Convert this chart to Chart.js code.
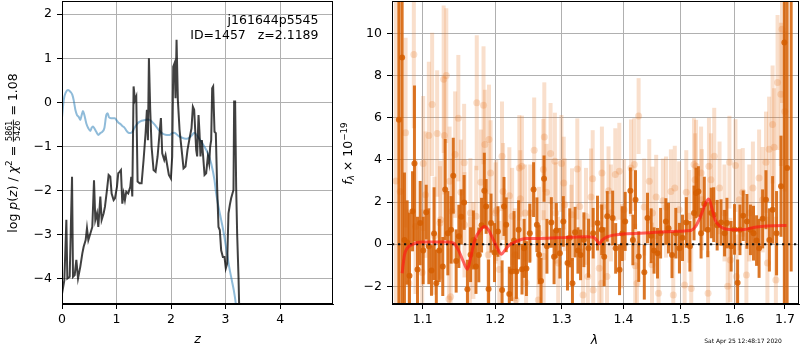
<!DOCTYPE html>
<html><head><meta charset="utf-8">
<script src="https://cdn.jsdelivr.net/npm/chart.js@4/dist/chart.umd.min.js"></script>
<style>
html,body{margin:0;padding:0;background:#fff;}
#wrap{position:relative;width:800px;height:350px;overflow:hidden;background:#fff;}
canvas{position:absolute;top:0;}
</style></head><body>
<div id="wrap">
<canvas id="left" width="340" height="350" style="left:0;width:340px;height:350px"></canvas>
<canvas id="right" width="460" height="350" style="left:340px;width:460px;height:350px"></canvas>
</div>
<script>
// ---------- left panel: log p(z) ----------
const leftXTicks = [0, 1, 2, 3, 4];
const leftYTicks = [-4, -3, -2, -1, 0, 1, 2];
const blackZ = [0, 0.043, 0.080, 0.098, 0.141, 0.184, 0.202, 0.233, 0.263, 0.294,
 0.336, 0.373, 0.397, 0.434, 0.458, 0.483, 0.520, 0.556, 0.587, 0.611,
 0.642, 0.666, 0.703, 0.727, 0.764, 0.788, 0.825, 0.855, 0.886, 0.910,
 0.947, 0.971, 1.008, 1.032, 1.057, 1.081, 1.106, 1.130, 1.154, 1.179,
 1.215, 1.252, 1.270, 1.289, 1.313, 1.338, 1.362, 1.386, 1.423, 1.460,
 1.496, 1.533, 1.557, 1.576, 1.594, 1.618, 1.643, 1.679, 1.716, 1.753,
 1.789, 1.814, 1.838, 1.875, 1.899, 1.924, 1.960, 1.997, 2.021, 2.040,
 2.064, 2.082, 2.101, 2.125, 2.156, 2.192, 2.229, 2.265, 2.302, 2.339,
 2.375, 2.400, 2.424, 2.461, 2.479, 2.504, 2.522, 2.540, 2.565, 2.589,
 2.614, 2.644, 2.675, 2.699, 2.717, 2.736, 2.754, 2.772, 2.797, 2.821,
 2.845, 2.870, 2.894, 2.919, 2.950, 2.980, 3.004, 3.029, 3.053, 3.078,
 3.102, 3.126, 3.145, 3.157, 3.175, 3.194, 3.212, 3.237, 3.249, 3.260];
const blackLogP = [-4.35, -4.04, -2.67, -4.00, -3.96, -1.69, -3.96, -3.92, -3.58, -4.00,
 -3.73, -3.43, -3.28, -3.13, -2.86, -3.13, -2.98, -2.83, -1.77, -2.67,
 -2.52, -2.83, -2.14, -2.67, -2.52, -2.37, -1.99, -1.65, -1.69, -2.07,
 -2.22, -2.18, -1.92, -1.61, -1.58, -1.54, -2.30, -2.07, -2.22, -2.03,
 -2.07, -1.92, -1.69, -2.14, 0.36, 0.05, 0.13, -1.80, -1.84, -1.84,
 -1.31, -0.70, -0.17, -0.86, 1.00, -0.17, -1.01, -1.54, -1.58, -1.23,
 -0.70, -0.36, -1.16, -1.31, -1.20, -1.39, -1.65, -1.73, -1.23, 0.81,
 0.89, 0.09, 1.42, 0.05, -0.63, -1.05, -1.50, -1.46, -1.08, -0.82,
 -0.59, -0.10, -0.17, -1.08, -1.23, -0.29, -0.70, -1.23, -0.86, -1.23,
 -1.65, -1.61, -1.23, -1.39, -1.01, -0.86, 0.32, 0.36, -0.67, -0.70,
 -1.92, -2.83, -2.90, -3.36, -3.51, -3.51, -3.77, -3.66, -2.52, -2.33,
 -2.18, -2.07, -1.99, 0.02, 0.02, -1.92, -2.98, -3.96, -4.61, -5.20];
const blueZ = [0, 0.031, 0.068, 0.110, 0.153, 0.190, 0.214, 0.245, 0.275, 0.306,
 0.336, 0.361, 0.385, 0.410, 0.446, 0.483, 0.520, 0.544, 0.568, 0.593,
 0.629, 0.666, 0.703, 0.739, 0.776, 0.812, 0.837, 0.861, 0.898, 0.935,
 0.971, 0.996, 1.032, 1.069, 1.106, 1.142, 1.179, 1.215, 1.252, 1.289,
 1.325, 1.362, 1.411, 1.460, 1.521, 1.582, 1.631, 1.679, 1.728, 1.777,
 1.826, 1.875, 1.924, 1.972, 2.021, 2.058, 2.095, 2.143, 2.192, 2.241,
 2.290, 2.339, 2.388, 2.424, 2.491, 2.552, 2.613, 2.675, 2.736, 2.797,
 2.827, 2.870, 2.919, 2.968, 3.017, 3.065, 3.114, 3.151, 3.188, 3.230];
const blueLogP = [-0.35, 0.05, 0.22, 0.28, 0.24, 0.17, 0.05, -0.17, -0.29, -0.33,
 -0.40, -0.29, -0.20, -0.29, -0.48, -0.59, -0.65, -0.58, -0.55, -0.59,
 -0.67, -0.74, -0.70, -0.67, -0.59, -0.29, -0.25, -0.34, -0.36, -0.36,
 -0.36, -0.40, -0.46, -0.49, -0.54, -0.57, -0.64, -0.69, -0.70, -0.67,
 -0.59, -0.52, -0.45, -0.42, -0.40, -0.39, -0.42, -0.48, -0.55, -0.63,
 -0.69, -0.73, -0.74, -0.74, -0.70, -0.69, -0.72, -0.77, -0.80, -0.82,
 -0.83, -0.80, -0.74, -0.69, -0.78, -0.89, -1.01, -1.16, -1.39, -1.77,
 -2.07, -2.37, -2.67, -2.98, -3.36, -3.73, -4.04, -4.27, -4.57, -5.00];

// ---------- right panel: spectrum ----------
const rightXTicks = [1.1, 1.2, 1.3, 1.4, 1.5, 1.6, 1.7];
const rightYTicks = [-2, 0, 2, 4, 6, 8, 10];
const darkLam = [1.0688, 1.0730, 1.0760, 1.0795, 1.0825, 1.0865, 1.0890, 1.0930, 1.0965, 1.1005,
 1.1045, 1.1080, 1.1115, 1.1150, 1.1180, 1.1220, 1.1267, 1.1300, 1.1336, 1.1380,
 1.1410, 1.1450, 1.1487, 1.1520, 1.1560, 1.1606, 1.1650, 1.1690, 1.1726, 1.1766,
 1.1805, 1.1844, 1.1870, 1.1905, 1.1940, 1.1990, 1.2040, 1.2100, 1.2128, 1.2160,
 1.2205, 1.2240, 1.2275, 1.2310, 1.2343, 1.2393, 1.2425, 1.2459, 1.2510, 1.2567,
 1.2617, 1.2650, 1.2680, 1.2726, 1.2770, 1.2838, 1.2880, 1.2915, 1.2970, 1.3024,
 1.3090, 1.3125, 1.3168, 1.3210, 1.3255, 1.3297, 1.3350, 1.3425, 1.3500, 1.3570,
 1.3640, 1.3680, 1.3730, 1.3820, 1.3870, 1.3935, 1.3980, 1.4030, 1.4118, 1.4160,
 1.4205, 1.4260, 1.4356, 1.4411, 1.4475, 1.4525, 1.4585, 1.4640, 1.4733, 1.4780,
 1.4842, 1.4910, 1.4975, 1.5030, 1.5100, 1.5165, 1.5240, 1.5277, 1.5320, 1.5370,
 1.5430, 1.5494, 1.5560, 1.5605, 1.5670, 1.5743, 1.5810, 1.5855, 1.5935, 1.6000,
 1.6060, 1.6105, 1.6168, 1.6240, 1.6310, 1.6370, 1.6430, 1.6480, 1.6550, 1.6617,
 1.6685, 1.6750, 1.6830, 1.6920, 1.6988, 1.7045, 1.7128];
const darkFlux = [5.90, 8.86, 0.20, 0.08, -1.50, 1.56, 3.83, -1.20, 1.00, -0.30,
 1.52, -0.10, -1.25, 0.50, -1.86, -0.30, -1.06, 2.59, 0.52, 0.68,
 3.25, -0.80, 0.37, 1.30, 1.98, -2.14, -0.50, 0.20, -1.06, -0.51,
 0.90, 2.54, 1.79, -2.13, 1.00, -0.40, 0.60, -2.17, 1.79, 0.92,
 -2.37, -1.30, 0.17, -1.30, 0.68, -1.19, -0.20, -1.16, 0.52, 2.59,
 0.92, -0.50, -1.75, 3.11, -0.10, 1.03, -0.60, 0.65, -0.43, 1.08,
 -0.90, 0.30, -1.86, 0.57, -0.30, -0.51, 0.21, -0.19, 0.52, 1.00,
 0.68, -0.60, 1.32, 1.24, -0.20, -1.22, 0.50, 1.08, 2.54, 0.20,
 2.11, -0.59, -1.33, 1.24, 0.40, -0.30, -0.43, 0.52, 1.08, 0.76,
 -0.51, 0.52, -0.19, 0.30, 1.03, -0.10, 1.48, 2.43, 2.50, 0.52,
 1.90, 0.68, 1.48, 1.40, 0.90, 1.03, 0.52, 1.00, -0.10, 0.70,
 -1.83, 0.68, 1.35, 1.08, 0.68, 0.52, 0.17, -0.20, 1.20, 2.11,
 0.20, 1.63, 0.52, 2.75, 9.57, 3.62, 12.5];
const darkErr = [13, 12, 3.2, 2.0, 3.0, 1.9, 3.7, 2.5, 2.0, 1.6,
 1.3, 1.8, 1.2, 2.2, 1.6, 1.5, 1.4, 2.4, 2.0, 1.6,
 1.8, 1.5, 1.5, 1.3, 1.3, 1.4, 1.3, 1.4, 1.3, 1.3,
 1.3, 1.8, 1.3, 1.4, 1.4, 1.4, 1.2, 1.4, 1.4, 1.3,
 1.3, 1.4, 1.4, 1.3, 1.4, 1.2, 1.4, 1.3, 1.4, 1.3,
 1.3, 1.4, 1.1, 1.1, 1.3, 1.2, 1.3, 1.3, 1.2, 1.2,
 1.3, 1.4, 1.2, 1.2, 1.1, 1.2, 1.3, 1.4, 1.2, 1.3,
 1.2, 1.4, 1.2, 1.3, 1.2, 1.2, 1.3, 1.4, 1.1, 1.2,
 1.4, 1.2, 1.3, 1.2, 1.3, 1.1, 1.2, 1.2, 1.1, 1.2,
 1.1, 1.2, 1.2, 1.1, 1.2, 1.2, 1.3, 1.2, 1.2, 1.2,
 1.3, 1.3, 1.2, 1.3, 1.2, 1.1, 1.1, 1.2, 1.2, 1.2,
 1.1, 1.2, 1.2, 1.3, 1.2, 1.3, 1.2, 1.4, 1.4, 1.4,
 1.5, 1.6, 2.0, 2.4, 14, 8, 13.8];
const lightLam = [1.0650, 1.0705, 1.0775, 1.0817, 1.0882, 1.0904, 1.0992, 1.1005, 1.1036, 1.1080,
 1.1124, 1.1155, 1.1191, 1.1230, 1.1279, 1.1288, 1.1315, 1.1351, 1.1360, 1.1374,
 1.1392, 1.1436, 1.1480, 1.1515, 1.1560, 1.1565, 1.1640, 1.1690, 1.1728, 1.1737,
 1.1795, 1.1833, 1.1852, 1.1900, 1.1911, 1.1934, 1.2015, 1.2060, 1.2099, 1.2114,
 1.2206, 1.2290, 1.2304, 1.2353, 1.2368, 1.2392, 1.2454, 1.2516, 1.2576, 1.2638,
 1.2715, 1.2720, 1.2730, 1.2765, 1.2826, 1.2893, 1.2944, 1.2995, 1.3031, 1.3047,
 1.3161, 1.3245, 1.3283, 1.3336, 1.3413, 1.3465, 1.3492, 1.3500, 1.3599, 1.3637,
 1.3643, 1.3726, 1.3752, 1.3864, 1.3931, 1.3976, 1.4128, 1.4184, 1.4200, 1.4230,
 1.4258, 1.4442, 1.4489, 1.4562, 1.4604, 1.4680, 1.4822, 1.4865, 1.4892, 1.5069,
 1.5099, 1.5189, 1.5240, 1.5260, 1.5277, 1.5370, 1.5500, 1.5516, 1.5553, 1.5615,
 1.5715, 1.5870, 1.5903, 1.5920, 1.6019, 1.6038, 1.6160, 1.6231, 1.6358, 1.6480,
 1.6617, 1.6646, 1.6680, 1.6750, 1.6780, 1.6816, 1.6850, 1.6917, 1.6940, 1.6996,
 1.3656, 1.3791, 1.4011, 1.4354, 1.4498, 1.4735, 1.4969, 1.5152, 1.2005, 1.2247,
 1.2440, 1.2649, 1.2906, 1.3150, 1.3384, 1.5384, 1.5809, 1.6093, 1.6287, 1.6551,
 1.1237, 1.1648];
const lightFlux = [3.00, 2.50, 5.29, -1.86, 9.00, 0.84, -1.35, 3.83, 2.35, 5.16,
 6.63, 0.40, 5.25, 1.00, 7.83, 5.16, 8.00, -2.60, 2.98, -2.49,
 1.56, 4.25, 5.98, 2.46, 3.86, 0.92, -1.00, -0.30, 1.32, 6.71,
 2.94, 6.59, 4.73, -0.50, 4.97, 3.38, 1.60, -1.20, 4.17, 2.50,
 2.30, -0.50, -2.65, 3.62, 2.16, 3.70, -1.83, 1.48, 4.46, -2.65,
 3.54, -0.59, 5.08, 2.46, 4.30, 3.94, -0.90, 3.83, 2.90, 1.87,
 1.40, 3.57, 1.79, -2.41, -1.54, 2.24, 3.11, -2.17, -1.14, -1.86,
 3.38, -1.54, 2.54, 3.30, 3.46, -0.10, 3.62, 3.78, -1.03, -1.86,
 6.08, 2.98, -0.98, 2.24, -2.33, 2.06, 2.50, -2.41, 2.67, -1.94,
 2.46, -2.10, 3.78, 3.06, 3.70, 3.38, -2.33, 3.70, 3.06, 4.17,
 2.67, -2.00, 3.89, -0.75, 3.73, -1.54, 2.46, -1.46, 2.67, 3.14,
 3.89, -0.90, 4.50, 5.68, 4.60, -1.70, 7.67, 7.11, 10.20, 6.30,
 1.79, 1.48, 1.63, 1.76, 1.48, 1.76, 1.63, 1.32, 1.48, 1.32,
 1.48, 0.52, 1.48, 0.52, 1.32, 2.11, 1.48, 2.11, 1.48, 2.11,
 1.16, 1.48];
const lightErr = [10, 9, 4.5, 3.5, 3.5, 3.2, 3.0, 3.2, 3.0, 3.5,
 3.4, 2.8, 3.0, 2.7, 3.5, 2.8, 3.2, 2.4, 2.6, 2.5,
 2.5, 3.0, 3.0, 2.5, 2.8, 2.5, 2.3, 2.3, 2.4, 3.2,
 2.5, 2.8, 2.6, 2.4, 2.6, 2.5, 2.4, 2.3, 2.6, 2.3,
 2.3, 2.2, 2.3, 2.5, 2.3, 2.4, 2.2, 2.3, 2.5, 2.3,
 2.4, 2.2, 2.6, 2.3, 2.4, 2.3, 2.2, 2.3, 2.2, 2.2,
 2.2, 2.4, 2.2, 2.2, 2.2, 2.3, 2.3, 2.2, 2.1, 2.0,
 2.2, 2.0, 2.1, 2.2, 2.3, 2.0, 2.3, 2.2, 2.0, 2.0,
 1.8, 2.0, 2.0, 2.0, 2.0, 2.0, 2.0, 2.0, 2.0, 2.0,
 2.0, 2.0, 2.2, 2.2, 2.2, 2.2, 2.0, 2.3, 2.2, 2.3,
 2.2, 2.0, 2.2, 2.0, 2.2, 2.0, 2.1, 2.0, 2.2, 2.3,
 2.4, 2.2, 2.5, 2.8, 2.8, 3.0, 3.2, 3.4, 3.5, 3.8,
 2.2, 2.3, 2.4, 2.3, 2.2, 2.4, 2.3, 2.2, 2.4, 2.3,
 2.3, 2.2, 2.4, 2.3, 2.3, 2.4, 2.3, 2.4, 2.3, 2.5,
 2.8, 2.6];
const modelLam = [1.0730, 1.0760, 1.0795, 1.0860, 1.0926, 1.0992, 1.1147, 1.1325, 1.1415, 1.1480,
 1.1550, 1.1604, 1.1655, 1.1710, 1.1790, 1.1844, 1.1903, 1.1973, 1.2043, 1.2090,
 1.2138, 1.2209, 1.2280, 1.2368, 1.2465, 1.2669, 1.2925, 1.3186, 1.3400, 1.3506,
 1.3560, 1.3600, 1.3640, 1.3720, 1.3830, 1.3990, 1.4285, 1.4560, 1.4846, 1.5070,
 1.5185, 1.5270, 1.5360, 1.5450, 1.5510, 1.5572, 1.5630, 1.5724, 1.5850, 1.6106,
 1.6430, 1.6763, 1.7033];
const modelFlux = [-1.38, -0.51, -0.19, -0.03, 0.08, 0.10, 0.10, 0.10, 0.05, -0.27,
 -0.83, -1.19, -0.59, 0.21, 0.68, 0.84, 0.68, 0.21, -0.27, -0.48,
 -0.30, -0.03, 0.08, 0.21, 0.27, 0.27, 0.30, 0.33, 0.35, 0.33,
 0.17, 0.02, 0.17, 0.33, 0.43, 0.48, 0.52, 0.56, 0.60, 0.63,
 0.65, 0.84, 1.32, 1.92, 2.14, 1.71, 1.16, 0.84, 0.71, 0.68,
 0.81, 0.87, 0.89];

// ---------- helpers ----------
const FAM = "'DejaVu Sans', sans-serif";
const fmt = v => (v < 0 ? '\u2212' + Math.abs(v) : String(v));
function richWidth(ctx, s) {
  ctx.font = s.f;
  if (s.frac) return Math.max(ctx.measureText(s.frac[0]).width, ctx.measureText(s.frac[1]).width) + 2;
  return ctx.measureText(s.t).width;
}
function drawRich(ctx, segs, x, y, rot) {
  ctx.save(); ctx.translate(x, y); if (rot) ctx.rotate(rot);
  ctx.fillStyle = '#000'; ctx.textAlign = 'left'; ctx.textBaseline = 'alphabetic';
  const ws = segs.map(s => richWidth(ctx, s));
  let cur = -ws.reduce((a, b) => a + b, 0) / 2;
  segs.forEach((s, i) => {
    ctx.font = s.f; const w = ws[i];
    if (s.frac) {
      const a = ctx.measureText(s.frac[0]).width, b = ctx.measureText(s.frac[1]).width;
      ctx.fillText(s.frac[0], cur + (w - a) / 2, -4.4);
      ctx.fillRect(cur, -3.8, w, 0.8);
      ctx.fillText(s.frac[1], cur + (w - b) / 2, 3.4);
    } else ctx.fillText(s.t, cur, s.dy || 0);
    cur += w;
  });
  ctx.restore();
}
function axis(type, min, max, tickVals, labelFn, size, isX) {
  return {
    type, min, max, offset: false,
    afterBuildTicks: s => { s.ticks = tickVals.map(v => ({ value: v })); },
    afterFit: s => {
      if (isX) s.height = size; else s.width = size;
      s.paddingTop = 0; s.paddingBottom = 0; s.paddingLeft = 0; s.paddingRight = 0;
    },
    ticks: { color: '#000', padding: isX ? 3 : 5, autoSkip: false, maxRotation: 0, minRotation: 0,
      font: { family: FAM, size: 12.5 }, callback: v => labelFn(v) },
    grid: { color: '#b0b0b0', lineWidth: 1, tickColor: '#000', tickLength: 5, drawTicks: true },
    border: { display: true, color: '#000', width: 1 }
  };
}
function frame(ctx, a) {
  ctx.save(); ctx.strokeStyle = '#000'; ctx.lineWidth = 1;
  ctx.strokeRect(Math.round(a.left) + 0.5, Math.round(a.top) + 0.5,
    Math.round(a.right) - Math.round(a.left) - 1, Math.round(a.bottom) - Math.round(a.top) - 1);
  ctx.restore();
}
const N = '12.5px ' + FAM, I = 'italic 12.5px ' + FAM, S = '8.75px ' + FAM, F = '8px ' + FAM;

// ---------- left chart ----------
new Chart(document.getElementById('left'), {
  type: 'line',
  data: { datasets: [
    { data: blackZ.map((z, i) => ({ x: z, y: blackLogP[i] })), borderColor: 'rgba(0,0,0,0.75)',
      borderWidth: 2, pointRadius: 0, tension: 0, order: 0, clip: 0 },
    { data: blueZ.map((z, i) => ({ x: z, y: blueLogP[i] })), borderColor: 'rgba(31,119,180,0.5)',
      borderWidth: 2, pointRadius: 0, tension: 0.3, cubicInterpolationMode: 'monotone', order: 1, clip: 0 }
  ]},
  options: {
    responsive: false, animation: false, devicePixelRatio: 1, events: [],
    layout: { autoPadding: false, padding: { left: 0, right: 7, top: 1, bottom: 0 } },
    plugins: { legend: { display: false }, tooltip: { enabled: false } },
    scales: {
      x: axis('linear', 0, 4.97, leftXTicks, fmt, 46, true),
      y: axis('linear', -4.58, 2.30, leftYTicks, fmt, 62, false)
    }
  },
  plugins: [{ id: 'leftDeco', afterDraw(chart) {
    const ctx = chart.ctx, a = chart.chartArea;
    frame(ctx, a);
    ctx.save(); ctx.fillStyle = '#000'; ctx.font = N; ctx.textAlign = 'right'; ctx.textBaseline = 'alphabetic';
    ctx.fillText('j161644p5545', 318.5, 24);
    ctx.fillText('ID=1457   z=2.1189', 318.5, 38.5);
    ctx.font = I; ctx.textAlign = 'center'; ctx.fillText('z', 197.5, 343);
    ctx.restore();
    drawRich(ctx, [
      { t: 'log ', f: N }, { t: 'p', f: I }, { t: '(', f: N }, { t: 'z', f: I }, { t: ') / ', f: N },
      { t: '\u03c7', f: I }, { t: '2', f: S, dy: -5 }, { t: ' = ', f: N },
      { frac: ['5861', '5426'], f: F }, { t: ' = 1.08', f: N }
    ], 16.7, 153, -Math.PI / 2);
  }}]
});

// ---------- right chart ----------
const darkC = 'rgba(213,94,0,0.85)', lightC = 'rgba(230,120,40,0.24)';
function bars(lam, flux, err, color, width, order) {
  return lam.map((l, i) => ({ data: [{ x: l, y: flux[i] - err[i] }, { x: l, y: flux[i] + err[i] }],
    borderColor: color, borderWidth: width, pointRadius: 0, borderCapStyle: 'butt', tension: 0, order, clip: 0 }));
}
const rightSets = [
  { data: modelLam.map((l, i) => ({ x: l, y: modelFlux[i] })), borderColor: 'rgba(255,20,20,0.65)', borderWidth: 3,
    pointRadius: 0, tension: 0.3, cubicInterpolationMode: 'monotone', order: 0, clip: 0 },
  { data: [{ x: 1.06, y: 0 }, { x: 1.729, y: 0 }], borderColor: '#111', borderWidth: 2, borderDash: [2.2, 3.8],
    pointRadius: 0, order: 1, clip: 0 },
  { type: 'scatter', data: darkLam.map((l, i) => ({ x: l, y: darkFlux[i] })), pointRadius: 3,
    pointBackgroundColor: darkC, pointBorderWidth: 0, order: 2, clip: 0 },
  ...bars(darkLam, darkFlux, darkErr, darkC, 3, 3),
  { type: 'scatter', data: lightLam.map((l, i) => ({ x: l, y: lightFlux[i] })), pointRadius: 3.5,
    pointBackgroundColor: lightC, pointBorderWidth: 0, order: 4, clip: 0 },
  ...bars(lightLam, lightFlux, lightErr, lightC, 4, 5)
];
new Chart(document.getElementById('right'), {
  type: 'line',
  data: { datasets: rightSets },
  options: {
    responsive: false, animation: false, devicePixelRatio: 1, events: [],
    layout: { autoPadding: false, padding: { left: 0, right: 1, top: 1, bottom: 0 } },
    plugins: { legend: { display: false }, tooltip: { enabled: false } },
    scales: {
      x: axis('logarithmic', 1.06, 1.729, rightXTicks, v => Number(v).toFixed(1), 46, true),
      y: axis('linear', -2.84, 11.54, rightYTicks, fmt, 52, false)
    }
  },
  plugins: [{ id: 'rightDeco', afterDraw(chart) {
    const ctx = chart.ctx, a = chart.chartArea;
    frame(ctx, a);
    ctx.save(); ctx.fillStyle = '#000'; ctx.font = I; ctx.textAlign = 'center'; ctx.textBaseline = 'alphabetic';
    ctx.fillText('\u03bb', 254.5, 344);
    ctx.font = '6px ' + FAM; ctx.fillText('Sat Apr 25 12:48:17 2020', 403, 343);
    ctx.restore();
    drawRich(ctx, [
      { t: 'f', f: I }, { t: '\u03bb', f: 'italic 8.75px ' + FAM, dy: 2.5 }, { t: ' \u00d7 10', f: N },
      { t: '\u221219', f: S, dy: -5 }
    ], 11.5, 153.5, -Math.PI / 2);
  }}]
});
</script>
</body></html>
